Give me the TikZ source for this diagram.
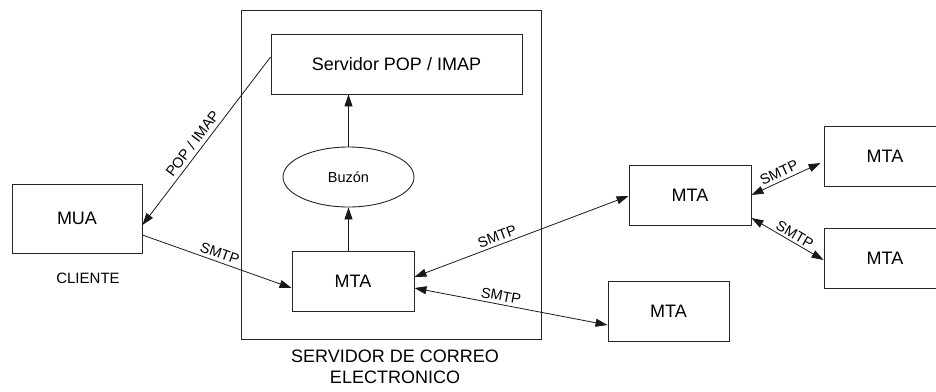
\documentclass[tikz,border=0pt]{standalone}
\usepackage{fontspec}
\setmainfont{Liberation Sans}
\usetikzlibrary{arrows.meta,shapes.geometric}
\begin{document}
\begin{tikzpicture}[x=1pt,y=-1pt,
  box/.style={draw=black!85,line width=0.9pt,rectangle,inner sep=0pt,minimum width=122pt,minimum height=60pt,font=\fontsize{18}{20}\selectfont},
  conn/.style={draw=black!90,line width=0.8pt,-{Triangle[length=12pt,width=8pt]}},
  bconn/.style={draw=black!90,line width=0.8pt,{Triangle[length=12pt,width=8pt]}-{Triangle[length=12pt,width=8pt]}},
  lbl/.style={font=\fontsize{14.5}{16}\selectfont,sloped,above,inner sep=3pt},
  plain/.style={font=\fontsize{18}{21}\selectfont,align=center,inner sep=0pt}]
\useasboundingbox (0,0) rectangle (936,391);
\clip (0,0) rectangle (936,391);
% server container
\node[draw=black!85,line width=0.9pt,inner sep=0pt,minimum width=300pt,minimum height=328.5pt] (server) at (391,175) {};
\node[box,minimum width=251pt] (pop) at (396.5,64) {Servidor POP / IMAP};
\node[draw=black!85,line width=0.9pt,ellipse,inner sep=0pt,minimum width=131pt,minimum height=60pt,font=\fontsize{14.5}{16}\selectfont] (buzon) at (348.5,177) {Buzón};
\node[box] (mta0) at (353,281) {MTA};
\node[box,minimum width=130pt,minimum height=69pt] (mua) at (77,218.5) {MUA};
\node[box] (mta1) at (690,195) {MTA};
\node[box] (mta2) at (885,156) {MTA};
\node[box] (mta3) at (885,258) {MTA};
\node[box,minimum width=121pt] (mta4) at (668.5,311) {MTA};
\node[font=\fontsize{15}{17}\selectfont,inner sep=0pt] (cliente) at (88,278) {CLIENTE};
\node[plain] (slabel) at (395,367) {SERVIDOR DE CORREO\\ELECTRONICO};
% connectors
\draw[conn] (buzon.north) -- (buzon.north |- pop.south);
\draw[conn] (buzon.south |- mta0.north) -- (buzon.south);
\draw[conn] ([yshift=7pt]pop.west) -- node[lbl,pos=0.55,inner sep=4pt] {POP / IMAP} ([yshift=-6.5pt]mua.east);
\draw[conn] ([yshift=-16.5pt]mua.east) -- node[lbl,pos=0.5] {SMTP} ([yshift=-7pt]mta0.west);
\draw[bconn] ([yshift=4pt]mta0.east) -- node[lbl,pos=0.4] {SMTP} ([yshift=-1pt]mta1.west);
\draw[bconn] ([yshift=-7pt]mta0.east) -- node[lbl,pos=0.44] {SMTP} ([yshift=-14pt]mta4.west);
\draw[bconn] (mta1.east) -- node[lbl,pos=0.45] {SMTP} ([xshift=-3pt,yshift=-7pt]mta2.west);
\draw[bconn] ([yshift=-23pt]mta1.east) -- node[lbl,pos=0.55,inner sep=2pt] {SMTP} ([yshift=-2pt]mta3.west);
\end{tikzpicture}
\end{document}
